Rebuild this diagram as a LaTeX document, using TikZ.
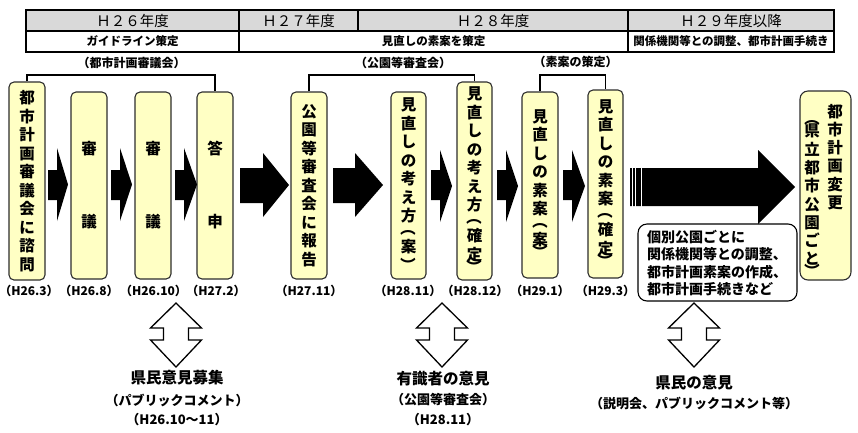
\documentclass[tikz,border=0pt]{standalone}
\usepackage{fontspec}
\setmainfont{Noto Sans CJK JP}
\usepackage{graphicx}
\usetikzlibrary{calc}
\definecolor{boxfill}{RGB}{255,255,196}
\definecolor{hdrfill}{RGB}{217,217,217}
\definecolor{boxline}{RGB}{45,45,45}
\newcommand\vlp{\rotatebox[origin=c]{-90}{（}}
\newcommand\vrp{\rotatebox[origin=c]{-90}{）}}
\newcommand\blockarrow[7]{\fill (#1,#4) -- (#2,#4) -- (#2,#6) -- (#3,{(#6+#7)/2}) -- (#2,#7) -- (#2,#5) -- (#1,#5) -- cycle;}
\newcommand\dblarrow[1]{\draw[dbl] (#1,303) -- ++(25.5,25) -- ++(-13,0) -- ++(0,12) -- ++(13,0) -- (#1,367) -- ++(-25.5,-27) -- ++(13,0) -- ++(0,-12) -- ++(-13,0) -- cycle;}
\begin{document}
\begin{tikzpicture}[x=1pt,y=-1pt,
  box/.style={draw=boxline, fill=boxfill, rounded corners=5pt, line width=1.1pt, inner sep=1pt,
    font=\fontsize{15.5}{18.5}\selectfont\bfseries, align=center},
  vcol/.style={inner sep=0pt, font=\fontsize{15.5}{18.3}\selectfont\bfseries, align=center},
  hdr/.style={font=\fontsize{14.5}{16}\selectfont},
  sub/.style={font=\fontsize{11.5}{13}\selectfont\bfseries},
  brk/.style={font=\fontsize{12}{13}\selectfont\bfseries},
  bline/.style={line width=1.8pt},
  date/.style={font=\fontsize{12}{14}\selectfont\bfseries, inner sep=0pt},
  dbl/.style={draw=black, fill=white, line width=1.3pt, line join=miter},
  cap1/.style={font=\fontsize{15.5}{17}\selectfont\bfseries, inner sep=0pt},
  cap2/.style={font=\fontsize{13}{15}\selectfont\bfseries, inner sep=0pt},
]
\useasboundingbox (0,0) rectangle (858,432);

% ---------- header table ----------
\fill[hdrfill] (26,10) rectangle (834,31);
\draw[line width=1.2pt] (26,10) rectangle (834,52);
\draw[line width=1.2pt] (26,31) -- (834,31);
\draw[line width=1.2pt] (239,10) -- (239,52);
\draw[line width=1.2pt] (358,10) -- (358,31);
\draw[line width=1.2pt] (628,10) -- (628,52);
\node[hdr] (h26) at (132.5,20.5) {Ｈ２６年度};
\node[hdr] (h27) at (298.5,20.5) {Ｈ２７年度};
\node[hdr] (h28) at (493,20.5) {Ｈ２８年度};
\node[hdr] (h29) at (731,20.5) {Ｈ２９年度以降};
\node[sub] (s1) at (132.5,41.5) {ガイドライン策定};
\node[sub] (s2) at (433.5,41.5) {見直しの素案を策定};
\node[sub] (s3) at (731,41.5) {関係機関等との調整、都市計画手続き};

% ---------- boxes ----------
\node[box, minimum width=36, minimum height=198] (b1) at (27,181) {都\\市\\計\\画\\審\\議\\会\\に\\諮\\問};
\node[box, minimum width=36, minimum height=187] (b2) at (89,185.5) {審\\[54.5pt]議};
\node[box, minimum width=36, minimum height=187] (b3) at (153,185.5) {審\\[54.5pt]議};
\node[box, minimum width=36, minimum height=187] (b4) at (215,185.5) {答\\[54.5pt]申};
\node[box, minimum width=36, minimum height=187] (b5) at (309,185.5) {公\\園\\等\\審\\査\\会\\に\\報\\告};
\node[box, minimum width=35, minimum height=187] (b6) at (408.5,185.5) {見\\直\\し\\の\\考\\え\\方\\[-6pt]\vlp\\案\\ \vrp};
\node[box, minimum width=35, minimum height=198] (b7) at (474.5,181) {見\\直\\し\\の\\考\\え\\方\\[-6pt]\vlp\\確\\定\\[-6pt] \vrp};
\node[box, minimum width=36, minimum height=186] (b8) at (540,185) {見\\直\\し\\の\\素\\案\\[-6pt]\vlp\\案\\[-6pt] \vrp};
\node[box, minimum width=35, minimum height=188] (b9) at (605.5,184) {見\\直\\し\\の\\素\\案\\[-6pt]\vlp\\確\\定\\[-6pt] \vrp};
\node[box, rounded corners=8pt, minimum width=51, minimum height=189] (b10) at (825.5,185.5) {};
\node[vcol] (b10r) at (835,157) {都\\市\\計\\画\\変\\更};
\node[vcol] (b10l) at (812,195) {\vlp\\[-6pt]県\\立\\都\\市\\公\\園\\ご\\と\\[-6pt] \vrp};

% ---------- brackets ----------
\coordinate (k1) at (121,75);
\coordinate (k2) at (390,75);
\coordinate (k3) at (573,75);
\draw[bline] (b1.north) |- (k1) -| (b4.north);
\draw[bline] (b5.north) |- (k2) -| (b7.north);
\draw[bline] (b8.north) |- (k3) -| (b9.north);
\node[brk] (l1) at (131.5,63) {（都市計画審議会）};
\node[brk] (l2) at (403,62.5) {（公園等審査会）};
\node[brk] (l3) at (575.5,62) {（素案の策定）};

% ---------- dates ----------
\node[date] (d1) at (29,291) {（H26.3）};
\node[date] (d2) at (89,291) {（H26.8）};
\node[date] (d3) at (153.5,291) {（H26.10）};
\node[date] (d4) at (216,291) {（H27.2）};
\node[date] (d5) at (309,291) {（H27.11）};
\node[date] (d6) at (408,291) {（H28.11）};
\node[date] (d7) at (475,291) {（H28.12）};
\node[date] (d8) at (540,291) {（H29.1）};
\node[date] (d9) at (605.5,291) {（H29.3）};

% ---------- block arrows ----------
\blockarrow{48}{57}{68}{170}{200}{148}{221}
\blockarrow{111}{120}{132}{170}{200}{148}{221}
\blockarrow{175}{184}{197}{170}{200}{148}{221}
\blockarrow{240}{263}{289}{168}{203}{153}{217}
\blockarrow{333}{355}{383}{168}{203}{153}{217}
\blockarrow{431}{440}{452}{170}{200}{150}{222}
\blockarrow{497}{506}{518}{170}{200}{150}{222}
\blockarrow{563}{572}{585}{170}{200}{150}{222}
\blockarrow{630}{758}{795}{168}{206}{150}{224}
\draw[white, line width=0.9pt] (632.3,167) -- (632.3,207);
\draw[white, line width=0.9pt] (635.8,167) -- (635.8,207);
\draw[white, line width=0.9pt] (641,167) -- (641,207);

% ---------- note box ----------
\node[draw, rounded corners=9pt, line width=1.1pt, fill=white, minimum width=159, minimum height=77] (note) at (717.5,262.5) {};
\node[font=\fontsize{14}{17.4}\selectfont\bfseries, align=left, inner sep=0pt] (notetext) at (717,263) {個別公園ごとに\\関係機関等との調整、\\都市計画素案の作成、\\都市計画手続きなど};

% ---------- double arrows ----------
\dblarrow{176}
\dblarrow{442}
\dblarrow{694}

% ---------- captions ----------
\node[cap1] (c1a) at (177,378) {県民意見募集};
\node[cap2] (c1b) at (177,400) {（パブリックコメント）};
\node[cap2] (c1c) at (177,420) {（H26.10～11）};
\node[cap1] (c2a) at (443,379) {有識者の意見};
\node[cap2] (c2b) at (443,400) {（公園等審査会）};
\node[cap2] (c2c) at (443,420) {（H28.11）};
\node[cap1] (c3a) at (694,383) {県民の意見};
\node[cap2] (c3b) at (694,403) {（説明会、パブリックコメント等）};
\end{tikzpicture}
\end{document}
